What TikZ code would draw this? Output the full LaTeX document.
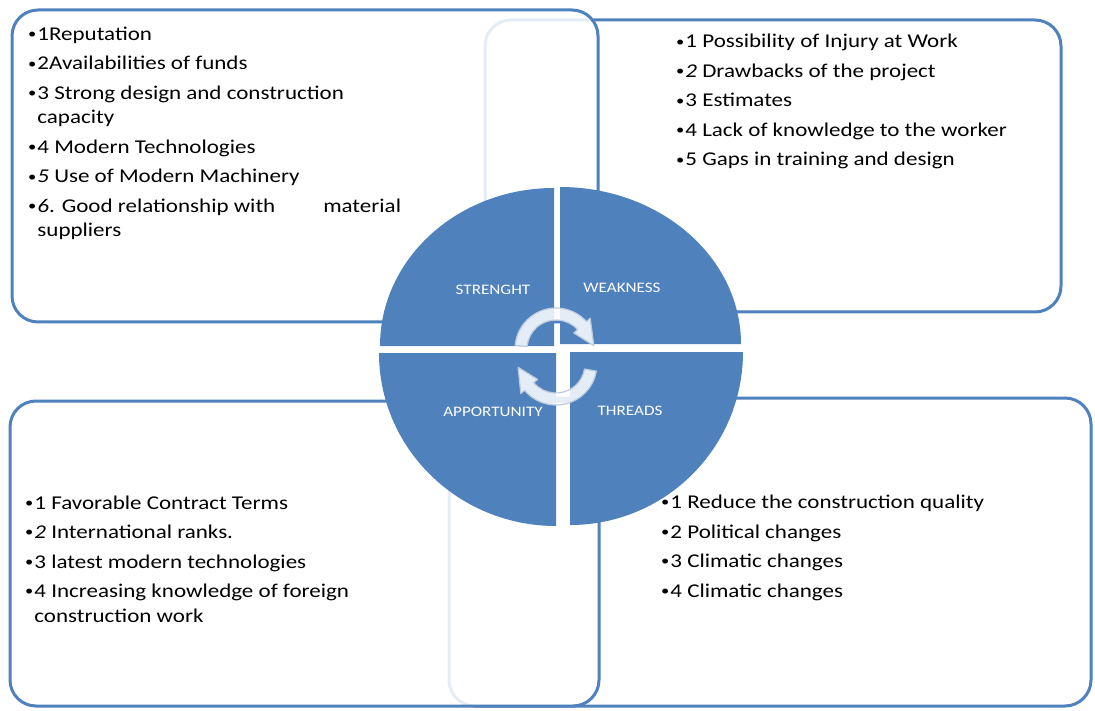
\documentclass[tikz,border=0pt]{standalone}
\usepackage{fontspec}
\setmainfont{Carlito}[FakeStretch=1.18]
\usetikzlibrary{calc}

\definecolor{swotblue}{RGB}{79,129,189}
\definecolor{arrowrim}{RGB}{188,202,222}

\newcommand{\dotmark}{\raisebox{1.8pt}{\fontsize{14}{14}\selectfont•}\kern1pt}

\tikzset{
  panel/.style={draw=swotblue, line width=3pt, rounded corners=26pt, fill=white, fill opacity=0.85},
  listtext/.style={anchor=base west, align=left, inner sep=0pt, font=\fontsize{19.5}{24.5}\selectfont},
  quarter/.style={fill=swotblue},
  quarterlabel/.style={text=white, inner sep=0pt, font=\fontsize{14.5}{16}\selectfont},
  cyclearrow/.style={fill=white, fill opacity=0.85, draw=arrowrim, line width=1.2pt, line join=round}
}

\begin{document}
\begin{tikzpicture}[x=1pt, y=-1pt]
  \useasboundingbox (0,0) rectangle (1095,711);

  % Weakness panel
  \draw[panel] (485,20) rectangle (1061,312);
  \node[listtext] (weak) at (676,166) {\dotmark1 Possibility of Injury at Work\\[5pt] \dotmark\textit{2} Drawbacks of the project\\[5pt] \dotmark3 Estimates\\[5pt] \dotmark4 Lack of knowledge to the worker\\[5pt] \dotmark5 Gaps in training and design};

  % Strength panel
  \draw[panel] (12,10) rectangle (598,322);
  \node[listtext] (strong) at (28,237) {\dotmark1Reputation\\[5pt] \dotmark2Availabilities of funds\\[5pt] \dotmark3 Strong design and construction\\ \hphantom{\dotmark}capacity\\[5pt] \dotmark4 Modern Technologies\\[5pt] \dotmark\textit{5} Use of Modern Machinery\\[5pt] \dotmark\textit{6}. Good relationship with\hspace{48pt}material\\ \hphantom{\dotmark}suppliers};

  % Threats panel
  \draw[panel] (449,398) rectangle (1091,706);
  \node[listtext] (threat) at (661,597) {\dotmark1 Reduce the construction quality\\[5pt] \dotmark2 Political changes\\[5pt] \dotmark3 Climatic changes\\[5pt] \dotmark4 Climatic changes};

  % Opportunity panel
  \draw[panel] (10,401) rectangle (599,706);
  \node[listtext] (opport) at (25,622) {\dotmark1 Favorable Contract Terms\\[5pt] \dotmark\textit{2} International ranks.\\[5pt] \dotmark3 latest modern technologies\\[5pt] \dotmark4 Increasing knowledge of foreign\\ \hphantom{\dotmark}construction work};

  % Quarters
  \fill[quarter] (554,346) -- (380,346) arc[start angle=180, end angle=270, x radius=174, y radius=158] -- cycle;
  \fill[quarter] (560,344) -- (741,344) arc[start angle=0, end angle=-90, x radius=181, y radius=157] -- cycle;
  \fill[quarter] (556,353) -- (379,353) arc[start angle=180, end angle=90, x radius=177, y radius=173] -- cycle;
  \fill[quarter] (570,352) -- (743,352) arc[start angle=0, end angle=90, x radius=173, y radius=173] -- cycle;

  % Labels
  \node[quarterlabel] (s) at (493,290) {STRENGHT};
  \node[quarterlabel] (w) at (622,288) {WEAKNESS};
  \node[quarterlabel] (o) at (493,412) {APPORTUNITY};
  \node[quarterlabel] (t) at (630,411) {THREADS};

  % Cycle arrows
  \coordinate (cw) at (556,349);
  \coordinate (ccw) at (556,364);
  \filldraw[cyclearrow] ($(cw)+(185:41)$) arc[start angle=185, end angle=318, radius=41] -- ($(cw)+(318:46)$) -- ($(cw)+(355:38)$) -- ($(cw)+(318:24)$) -- ($(cw)+(318:29)$) arc[start angle=318, end angle=185, radius=29] -- cycle;
  \filldraw[cyclearrow] ($(ccw)+(10:41)$) arc[start angle=10, end angle=140, radius=41] -- ($(ccw)+(140:46)$) -- ($(ccw)+(175:38)$) -- ($(ccw)+(140:24)$) -- ($(ccw)+(140:29)$) arc[start angle=140, end angle=10, radius=29] -- cycle;
\end{tikzpicture}
\end{document}
